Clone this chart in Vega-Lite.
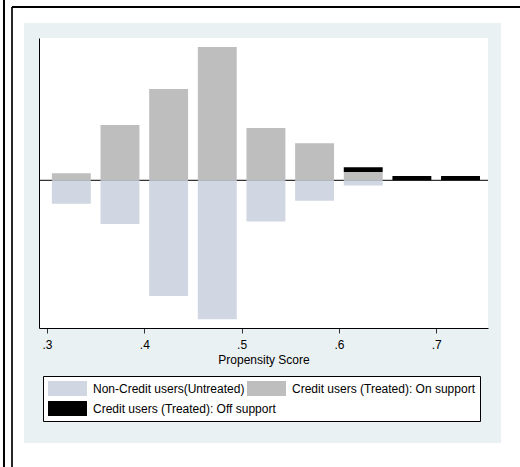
{
  "$schema": "https://vega.github.io/schema/vega-lite/v6.json",
  "width": 449,
  "height": 290,
  "autosize": {"type": "none"},
  "padding": {"left": 39, "top": 38, "right": 32, "bottom": 139},
  "background": "white",
  "config": {
    "view": {"stroke": null, "fill": "white"},
    "font": "Liberation Sans"
  },
  "datasets": {
    "bars": [
      {"x0": 0.305, "x1": 0.345, "value": 7.0, "group": "Credit users (Treated): On support", "ord": 1},
      {"x0": 0.355, "x1": 0.395, "value": 55.3, "group": "Credit users (Treated): On support", "ord": 1},
      {"x0": 0.405, "x1": 0.445, "value": 91.3, "group": "Credit users (Treated): On support", "ord": 1},
      {"x0": 0.455, "x1": 0.495, "value": 133.3, "group": "Credit users (Treated): On support", "ord": 1},
      {"x0": 0.505, "x1": 0.545, "value": 52.3, "group": "Credit users (Treated): On support", "ord": 1},
      {"x0": 0.555, "x1": 0.595, "value": 37.0, "group": "Credit users (Treated): On support", "ord": 1},
      {"x0": 0.605, "x1": 0.645, "value": 8.3, "group": "Credit users (Treated): On support", "ord": 1},
      {"x0": 0.605, "x1": 0.645, "value": 4.7, "group": "Credit users (Treated): Off support", "ord": 2},
      {"x0": 0.655, "x1": 0.695, "value": 4.3, "group": "Credit users (Treated): Off support", "ord": 2},
      {"x0": 0.705, "x1": 0.745, "value": 4.3, "group": "Credit users (Treated): Off support", "ord": 2},
      {"x0": 0.305, "x1": 0.345, "value": -23.4, "group": "Non-Credit users(Untreated)", "ord": 0},
      {"x0": 0.355, "x1": 0.395, "value": -43.7, "group": "Non-Credit users(Untreated)", "ord": 0},
      {"x0": 0.405, "x1": 0.445, "value": -115.7, "group": "Non-Credit users(Untreated)", "ord": 0},
      {"x0": 0.455, "x1": 0.495, "value": -139.0, "group": "Non-Credit users(Untreated)", "ord": 0},
      {"x0": 0.505, "x1": 0.545, "value": -41.3, "group": "Non-Credit users(Untreated)", "ord": 0},
      {"x0": 0.555, "x1": 0.595, "value": -20.4, "group": "Non-Credit users(Untreated)", "ord": 0},
      {"x0": 0.605, "x1": 0.645, "value": -5.3, "group": "Non-Credit users(Untreated)", "ord": 0}
    ]
  },
  "layer": [
    {
      "data": {"values": [{}]},
      "mark": {"type": "rect", "color": "#EAF1F3", "clip": false},
      "encoding": {
        "x": {"datum": 0.27636, "type": "quantitative", "scale": {"domain": [0.291778, 0.753237], "nice": false, "zero": false, "padding": 0}},
        "x2": {"datum": 0.76660},
        "y": {"datum": 157.3, "type": "quantitative", "scale": {"domain": [-147.7, 142.3], "nice": false, "zero": false, "padding": 0}},
        "y2": {"datum": -262.7}
      }
    },
    {
      "data": {"values": [{}]},
      "mark": {"type": "rect", "color": "white", "clip": false},
      "encoding": {
        "x": {"datum": 0.291778, "type": "quantitative"},
        "x2": {"datum": 0.753237},
        "y": {"datum": 142.3, "type": "quantitative"},
        "y2": {"datum": -147.7}
      }
    },
    {
      "data": {"values": [{}]},
      "mark": {"type": "rule", "color": "black", "strokeWidth": 2, "clip": false},
      "encoding": {
        "x": {"datum": 0.25580, "type": "quantitative"},
        "y": {"datum": 180.3, "type": "quantitative"},
        "y2": {"datum": -286.7}
      }
    },
    {
      "data": {"values": [{}]},
      "mark": {"type": "rule", "color": "black", "strokeWidth": 1.7, "clip": false},
      "encoding": {
        "x": {"datum": 0.26403, "type": "quantitative"},
        "y": {"datum": 173.3, "type": "quantitative"},
        "y2": {"datum": -286.7}
      }
    },
    {
      "data": {"values": [{}]},
      "mark": {"type": "rule", "color": "black", "strokeWidth": 2, "clip": false},
      "encoding": {
        "x": {"datum": 0.26403, "type": "quantitative"},
        "x2": {"datum": 0.78700},
        "y": {"datum": 173.3, "type": "quantitative"}
      }
    },
    {
      "data": {"values": [{}]},
      "mark": {"type": "rule", "color": "black", "strokeWidth": 1},
      "encoding": {
        "y": {"datum": 0, "type": "quantitative"}
      }
    },
    {
      "data": {"name": "bars"},
      "mark": {"type": "bar", "orient": "vertical"},
      "encoding": {
        "x": {"field": "x0", "type": "quantitative",
          "scale": {"domain": [0.291778, 0.753237], "nice": false, "zero": false, "padding": 0},
          "axis": {
            "values": [0.3, 0.4, 0.5, 0.6, 0.7],
            "labelExpr": "replace(format(datum.value, '.1f'), '0.', '.')",
            "title": "Propensity Score",
            "grid": false,
            "domainColor": "black",
            "tickColor": "#333333",
            "tickSize": 5,
            "labelFlush": false,
            "labelFont": "Liberation Sans",
            "labelFontSize": 12,
            "labelColor": "black",
            "labelPadding": 6,
            "titleFont": "Liberation Sans",
            "titleFontSize": 12,
            "titleFontWeight": "normal",
            "titleColor": "black",
            "titlePadding": 4,
            "zindex": 1
          }
        },
        "x2": {"field": "x1"},
        "y": {"field": "value", "type": "quantitative", "stack": "zero",
          "scale": {"domain": [-147.7, 142.3], "nice": false, "zero": false, "padding": 0},
          "axis": {"title": null, "labels": false, "ticks": false, "grid": false, "domainColor": "black", "zindex": 1}
        },
        "order": {"field": "ord", "type": "quantitative"},
        "color": {
          "field": "group", "type": "nominal",
          "scale": {
            "domain": ["Non-Credit users(Untreated)", "Credit users (Treated): On support", "Credit users (Treated): Off support"],
            "range": ["#D0D6E2", "#BEBEBE", "#000000"]
          },
          "legend": {
            "title": null,
            "orient": "none",
            "legendX": 4,
            "legendY": 338,
            "direction": "horizontal",
            "columns": 2,
            "gridAlign": "none",
            "symbolType": "M-1,-0.385H1V0.385H-1Z",
            "symbolSize": 1521,
            "symbolStrokeWidth": 0,
            "clipHeight": 15,
            "labelFont": "Liberation Sans",
            "labelFontSize": 12,
            "labelColor": "black",
            "labelOffset": 6,
            "labelLimit": 400,
            "columnPadding": -29,
            "rowPadding": 5,
            "padding": 5,
            "strokeColor": "black",
            "fillColor": "white",
            "zindex": 1
          }
        }
      }
    }
  ]
}
